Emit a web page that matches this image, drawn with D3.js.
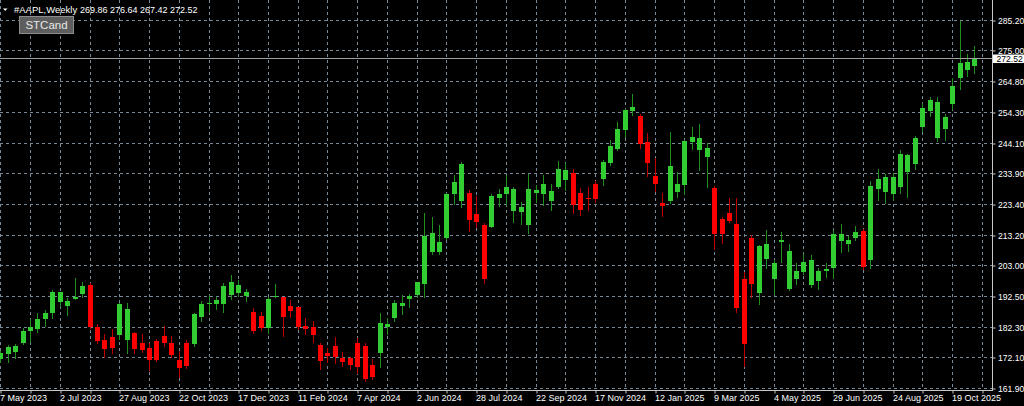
<!DOCTYPE html>
<html>
<head>
<meta charset="utf-8">
<script src="https://cdn.jsdelivr.net/npm/d3@7"></script>
<style>
  html, body { margin: 0; padding: 0; background: #000; overflow: hidden; }
  svg { display: block; }
  text { font-family: "Liberation Sans", Arial, sans-serif; }
</style>
</head>
<body>
<svg id="chart" width="1024" height="406"></svg>
<script>
const symbolName = "#AAPL,Weekly";
const indicatorName = "STCand";

// weekly bars, first bar = week of 7 May 2023
const openPrices = [
  171.5, 173.1, 174.0, 176.8, 181.0, 181.5, 184.8, 186.8, 190.8, 189.4,
  191.6, 193.3, 196.3, 182.4, 177.9, 178.8, 179.6, 177.9, 180.4, 176.8,
  175.1, 177.7, 179.2, 177.0, 171.2, 177.0, 176.4, 185.7, 190.0, 190.0,
  189.9, 193.0, 193.5, 192.7, 187.4, 186.1, 182.0, 192.4, 192.2, 189.3,
  188.9, 182.6, 182.4, 176.1, 173.7, 175.9, 171.8, 171.8, 176.8, 175.9,
  169.5, 173.4, 182.4, 185.2, 189.4, 191.6, 193.0, 196.8, 207.3, 207.5,
  212.0, 226.7, 224.5, 227.3, 220.1, 216.5, 215.9, 225.6, 226.7, 221.2,
  220.7, 216.5, 227.1, 226.7, 224.6, 229.1, 231.6, 233.8, 227.1, 225.6,
  230.1, 231.8, 237.4, 241.8, 248.3, 254.8, 253.0, 244.4, 232.9, 223.7,
  224.5, 227.6, 229.9, 244.4, 241.6, 239.2, 228.8, 218.4, 220.6, 216.7,
  198.2, 212.0, 193.5, 205.1, 198.4, 210.6, 195.0, 198.4, 200.8, 196.3,
  197.7, 201.1, 202.2, 211.2, 210.1, 212.0, 214.4, 204.7, 228.4, 227.6,
  226.7, 229.3, 234.1, 236.9, 249.2, 254.8, 245.5, 248.7, 257.0, 265.6,
  268.4, 269.86
];
const highPrices = [
  174.2, 176.2, 176.5, 181.8, 184.8, 186.8, 187.9, 194.7, 194.1, 192.1,
  198.6, 197.3, 196.9, 183.2, 179.9, 181.5, 190.2, 190.2, 180.7, 179.9,
  177.0, 178.1, 182.6, 179.2, 174.3, 177.9, 186.8, 191.0, 193.0, 192.4,
  196.9, 199.8, 198.0, 194.9, 188.5, 187.4, 192.2, 196.7, 192.4, 191.3,
  189.1, 185.2, 184.3, 177.0, 175.1, 178.9, 174.0, 172.3, 178.7, 176.8,
  171.6, 187.1, 185.2, 191.3, 193.0, 193.3, 197.5, 220.4, 219.2, 216.4,
  227.3, 233.2, 237.7, 228.2, 226.2, 217.0, 226.7, 228.5, 233.2, 229.1,
  224.1, 233.6, 229.9, 233.2, 230.1, 237.9, 237.1, 235.1, 228.8, 229.1,
  231.2, 238.3, 245.0, 250.9, 255.2, 260.4, 253.7, 247.4, 238.8, 227.3,
  247.5, 234.3, 245.0, 249.2, 250.3, 243.8, 229.5, 219.0, 225.4, 225.4,
  200.8, 213.1, 209.8, 214.8, 204.7, 214.2, 210.0, 203.8, 206.7, 206.4,
  201.9, 203.8, 214.8, 216.8, 212.9, 216.1, 215.0, 231.2, 235.2, 233.5,
  233.8, 241.6, 240.3, 246.4, 257.3, 259.3, 259.3, 253.7, 265.6, 284.8,
  273.7, 276.64
];
const lowPrices = [
  170.6, 170.6, 171.9, 176.4, 177.3, 180.7, 182.6, 185.2, 189.3, 186.3,
  191.5, 192.4, 181.8, 176.8, 172.3, 173.7, 178.1, 173.7, 173.7, 174.0,
  167.8, 170.9, 175.9, 172.3, 165.4, 168.6, 175.9, 184.3, 187.4, 188.3,
  187.4, 191.5, 192.7, 191.1, 180.4, 181.3, 180.1, 192.2, 179.2, 185.7,
  181.5, 179.9, 177.3, 168.2, 170.6, 170.1, 169.2, 168.1, 166.9, 164.3,
  164.7, 169.0, 179.9, 184.4, 186.6, 189.1, 192.4, 192.2, 206.7, 206.7,
  211.8, 223.4, 222.6, 214.6, 215.9, 197.1, 215.7, 222.9, 223.2, 217.6,
  216.7, 213.9, 224.3, 223.2, 221.5, 228.8, 228.2, 220.6, 219.8, 221.5,
  224.3, 229.9, 236.6, 241.6, 246.1, 253.3, 242.2, 233.0, 228.0, 219.5,
  224.0, 225.7, 226.9, 241.9, 234.9, 229.3, 208.3, 210.3, 217.6, 187.4,
  169.2, 192.4, 189.9, 202.2, 193.3, 204.2, 194.7, 196.7, 200.0, 195.8,
  195.0, 198.9, 198.8, 207.5, 207.7, 211.4, 201.6, 201.9, 224.8, 223.9,
  224.8, 227.1, 226.0, 235.1, 248.1, 253.0, 244.7, 245.0, 255.2, 262.0,
  266.5, 267.42
];
const closePrices = [
  173.5, 175.4, 175.9, 181.0, 182.4, 185.0, 187.1, 194.1, 193.9, 191.1,
  192.4, 196.0, 182.1, 177.6, 174.8, 175.1, 189.9, 188.3, 174.8, 174.5,
  171.2, 171.2, 176.8, 172.9, 168.4, 169.2, 186.6, 189.9, 190.2, 191.3,
  196.0, 197.3, 196.5, 193.9, 181.0, 182.0, 191.6, 192.8, 185.7, 187.6,
  182.4, 181.7, 179.6, 171.0, 172.6, 172.1, 170.6, 169.5, 169.0, 164.8,
  165.6, 183.7, 183.3, 190.2, 190.2, 192.8, 197.2, 212.9, 213.7, 210.6,
  226.7, 230.8, 236.9, 218.1, 217.4, 198.4, 226.2, 226.9, 229.1, 228.5,
  222.6, 228.5, 228.2, 230.2, 228.0, 235.2, 234.9, 223.2, 221.5, 225.2,
  225.2, 237.7, 243.0, 248.5, 255.0, 255.9, 243.6, 237.1, 230.2, 222.9,
  236.2, 230.1, 244.7, 246.1, 245.5, 242.2, 213.4, 213.4, 217.9, 188.5,
  176.7, 196.7, 209.4, 210.1, 203.6, 211.3, 207.9, 201.0, 204.2, 204.7,
  201.0, 201.7, 213.4, 213.3, 211.4, 214.2, 202.5, 229.7, 231.8, 232.4,
  232.7, 240.2, 239.9, 245.7, 255.8, 258.4, 257.8, 252.6, 263.1, 270.7,
  271.0, 272.52
];

const priceTicks = [161.9, 172.1, 182.3, 192.5, 203.0, 213.2, 223.4, 233.9, 244.1, 254.3, 264.8, 275.0, 285.2];
const timeLabels = [
  "7 May 2023", "2 Jul 2023", "27 Aug 2023", "22 Oct 2023", "17 Dec 2023",
  "11 Feb 2024", "7 Apr 2024", "2 Jun 2024", "28 Jul 2024", "22 Sep 2024",
  "17 Nov 2024", "12 Jan 2025", "9 Mar 2025", "4 May 2025", "29 Jun 2025",
  "24 Aug 2025", "19 Oct 2025"
];

const plotRight = 992;
const plotBottom = 390;
const gridColor = "#778899";
const bullBody = "#32cd32", bullWick = "#1f8f1f";
const bearBody = "#ff0000", bearWick = "#c00000";
const axisFont = "8.6px";

const svg = d3.select("#chart");
svg.append("rect").attr("width", 1024).attr("height", 406).attr("fill", "#000");

const last = closePrices.length - 1;
const x = d3.scaleLinear().domain([0, last]).range([0.3, 974.4]).interpolate(d3.interpolateRound);
const y = d3.scaleLinear().domain([161.9, 285.2]).range([387.7, 20]).interpolate(d3.interpolateRound);

// grid
const grid = svg.append("g").attr("stroke", gridColor).attr("stroke-dasharray", "3,3").attr("stroke-width", 1);
grid.selectAll("line.h").data(priceTicks).enter().append("line")
  .attr("x1", 0).attr("x2", plotRight)
  .attr("y1", (d) => y(d) + 0.5).attr("y2", (d) => y(d) + 0.5);
const gridBars = d3.range(0, last + 2, 4);
grid.selectAll("line.v").data(gridBars).enter().append("line")
  .attr("x1", (d) => x(d) + 0.5).attr("x2", (d) => x(d) + 0.5)
  .attr("y1", 0).attr("y2", plotBottom);

// candles
const candles = d3.range(closePrices.length).map((i) => ({
  i, o: openPrices[i], h: highPrices[i], l: lowPrices[i], c: closePrices[i]
}));
const bars = svg.append("g").selectAll("g").data(candles).enter().append("g");
bars.append("line")
  .attr("x1", (d) => x(d.i) + 0.5).attr("x2", (d) => x(d.i) + 0.5)
  .attr("y1", (d) => y(d.h)).attr("y2", (d) => y(d.l) + 1)
  .attr("stroke", (d) => (d.c >= d.o ? bullWick : bearWick))
  .attr("stroke-width", 1);
bars.append("rect")
  .attr("x", (d) => x(d.i) - 2)
  .attr("width", 5)
  .attr("y", (d) => y(Math.max(d.o, d.c)))
  .attr("height", (d) => Math.max(1, y(Math.min(d.o, d.c)) - y(Math.max(d.o, d.c))))
  .attr("fill", (d) => (d.c >= d.o ? bullBody : bearBody));

// bid line
const lastClose = closePrices[last];
svg.append("line")
  .attr("x1", 0).attr("x2", plotRight)
  .attr("y1", y(lastClose) + 0.5).attr("y2", y(lastClose) + 0.5)
  .attr("stroke", "#a0a0a0").attr("stroke-width", 1);

// frame
svg.append("line").attr("x1", 0).attr("x2", plotRight + 1)
  .attr("y1", plotBottom + 0.5).attr("y2", plotBottom + 0.5).attr("stroke", "#c8c8c8");
svg.append("line").attr("x1", plotRight + 0.5).attr("x2", plotRight + 0.5)
  .attr("y1", 0).attr("y2", plotBottom + 1).attr("stroke", "#c8c8c8");

// price axis
const yAxis = svg.append("g").attr("transform", `translate(${plotRight + 0.5},0.5)`)
  .call(d3.axisRight(y).tickValues(priceTicks).tickFormat(d3.format(".2f")).tickSize(3).tickPadding(2.5).tickSizeOuter(0));
yAxis.select(".domain").remove();
yAxis.selectAll("line").attr("stroke", "#c8c8c8");
yAxis.selectAll("text").attr("fill", "#fff").style("font-size", axisFont)
  .style("font-family", "'Liberation Sans', Arial, sans-serif");

// time axis
const xAxis = svg.append("g").attr("transform", `translate(0.5,${plotBottom + 0.5})`)
  .call(d3.axisBottom(x).tickValues(gridBars.filter((d) => d <= last + 1))
    .tickFormat((d) => (d % 8 === 0 ? timeLabels[d / 8] || "" : "")).tickSize(3).tickSizeOuter(0));
xAxis.select(".domain").remove();
xAxis.selectAll("line").attr("stroke", "#c8c8c8");
xAxis.selectAll("text").attr("fill", "#fff").attr("text-anchor", "start")
  .attr("x", -1).attr("y", 4).style("font-size", "9px")
  .style("font-family", "'Liberation Sans', Arial, sans-serif");

// current price label
const py = y(lastClose);
svg.append("rect").attr("x", plotRight + 1).attr("y", py - 3.5).attr("width", 31).attr("height", 8.5).attr("fill", "#fff");
svg.append("text").attr("x", plotRight + 4.5).attr("y", py + 0.5).attr("dy", "0.35em")
  .attr("fill", "#000").style("font-size", axisFont).text(d3.format(".2f")(lastClose));

// header
svg.append("path").attr("d", "M3,8.5 L7.5,8.5 L5.25,11 Z").attr("fill", "#fff");
svg.append("text").attr("x", 14).attr("y", 13).attr("fill", "#fff").style("font-size", "9.5px")
  .text(symbolName);
svg.append("text").attr("x", 80).attr("y", 13).attr("fill", "#fff").style("font-size", "9px")
  .text([openPrices[last], highPrices[last], lowPrices[last], closePrices[last]].map(d3.format(".2f")).join(" "));
svg.append("rect").attr("x", 19.5).attr("y", 16.5).attr("width", 54).attr("height", 17)
  .attr("fill", "#5e5e5e").attr("stroke", "#8c8c8c");
svg.append("text").attr("x", 46.5).attr("y", 29).attr("text-anchor", "middle")
  .attr("fill", "#e6e6e6").style("font-size", "11.5px").text(indicatorName);
</script>
</body>
</html>
